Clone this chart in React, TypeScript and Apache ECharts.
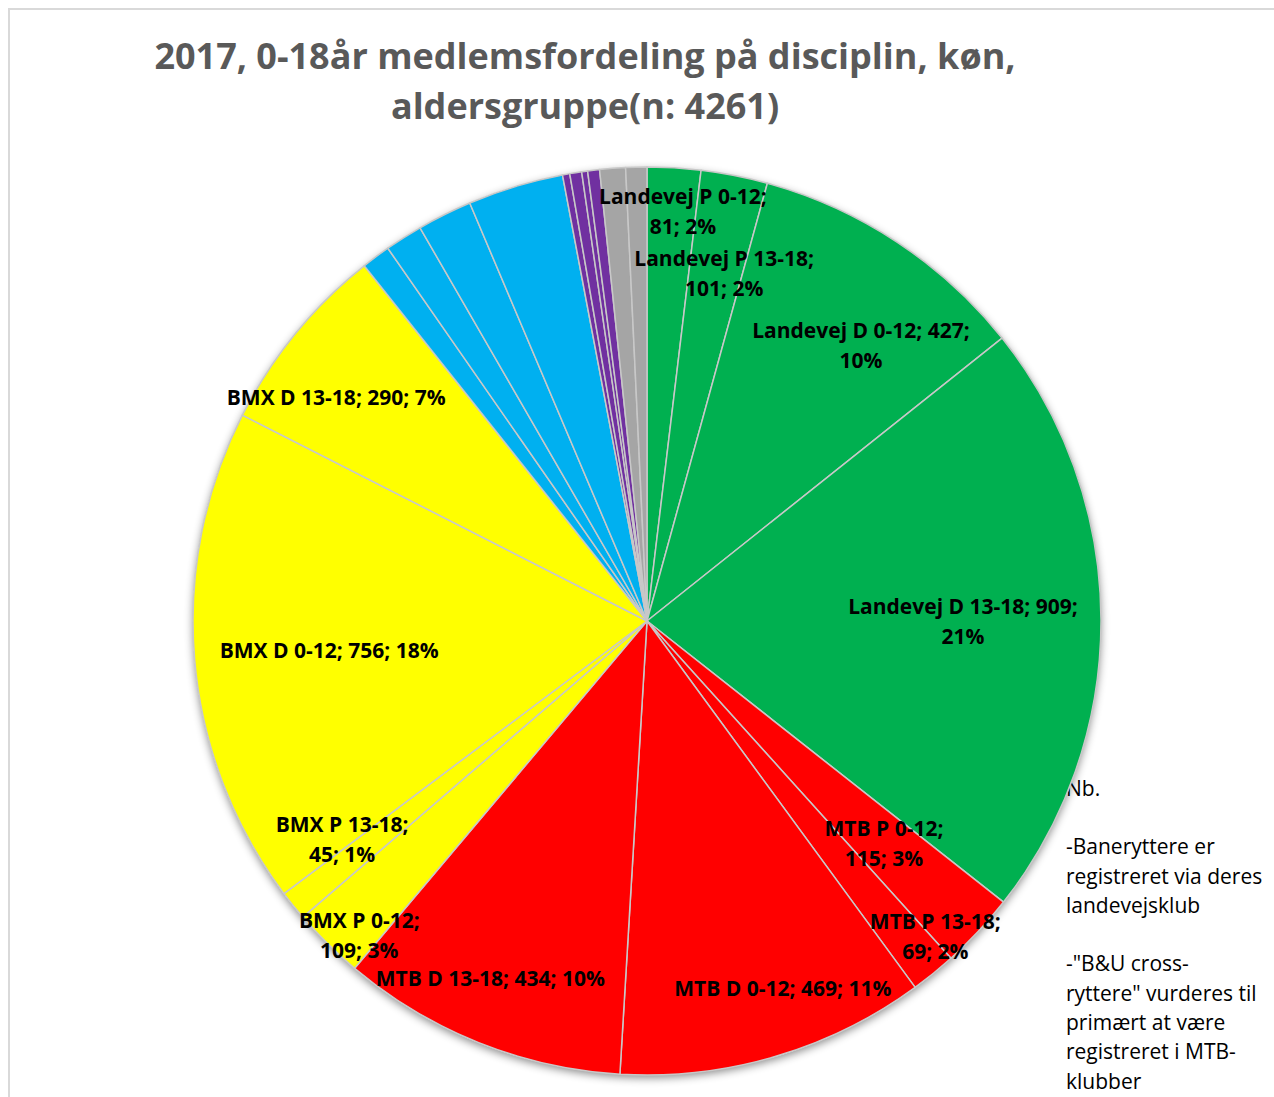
import React, { useEffect, useRef } from 'react';
import * as echarts from 'echarts';

const TITLE_LINES = ['2017, 0-18år medlemsfordeling på disciplin, køn,', 'aldersgruppe(n: 4261)'];

const categories = [
  'Landevej P 0-12', 'Landevej P 13-18', 'Landevej D 0-12', 'Landevej D 13-18',
  'MTB P 0-12', 'MTB P 13-18', 'MTB D 0-12', 'MTB D 13-18',
  'BMX P 0-12', 'BMX P 13-18', 'BMX D 0-12', 'BMX D 13-18',
  'Andet 1', 'Andet 2', 'Andet 3', 'Andet 4',
  'Andet 5', 'Andet 6', 'Andet 7', 'Andet 8',
  'Andet 9', 'Andet 10',
];
const values = [81, 101, 427, 909, 115, 69, 469, 434, 109, 45, 756, 290, 44, 57, 83, 145, 11, 18, 9, 18, 39, 32];

const GREEN = '#00B050', RED = '#FF0000', YELLOW = '#FFFF00', BLUE = '#00B0F0', PURPLE = '#7030A0', GRAY = '#A5A5A5';
const sliceColors = [
  GREEN, GREEN, GREEN, GREEN,
  RED, RED, RED, RED,
  YELLOW, YELLOW, YELLOW, YELLOW,
  BLUE, BLUE, BLUE, BLUE,
  PURPLE, PURPLE, PURPLE, PURPLE,
  GRAY, GRAY,
];
// 1 = break after name, 2 = break after value, 0 = single line, -1 = no label
const labelWrap = [1, 1, 2, 2, 1, 1, 0, 0, 1, 1, 0, 0, -1, -1, -1, -1, -1, -1, -1, -1, -1, -1];
// label placement: [angle clockwise from 12 o'clock in degrees, fraction of radius]
const labelPolar: (number[] | null)[] = [
  [5.0, 0.907], [12.5, 0.785], [37.8, 0.769], [90, 0.696],
  [133.1, 0.715], [137.5, 0.94], [159.7, 0.862], [203.7, 0.859],
  [222.5, 0.938], [234.4, 0.826], [264.8, 0.703], [305.8, 0.844],
  null, null, null, null, null, null, null, null, null, null,
];

const NOTE_LINES = [
  'Nb.', '', '-Baneryttere er', 'registreret via deres', 'landevejsklub', '',
  '-"B&U cross-', 'ryttere" vurderes til', 'primært at være', 'registreret i MTB-', 'klubber',
];

const TOTAL = values.reduce((a, b) => a + b, 0);
const CX = 639, CY = 613, R = 454;
const FONT = '"Open Sans", "Noto Sans", sans-serif';

export default function App() {
  const ref = useRef<HTMLDivElement>(null);
  useEffect(() => {
    if (!ref.current) return;
    const chart = echarts.init(ref.current, null, { renderer: 'svg' });
    const data = categories.map((name, i) => ({
      name,
      value: values[i],
      itemStyle: { color: sliceColors[i] },
      label: { show: labelWrap[i] >= 0 },
    }));
    chart.setOption({
      animation: false,
      backgroundColor: '#ffffff',
      title: {
        text: TITLE_LINES.join('\n'),
        left: 572,
        top: 17,
        textAlign: 'center',
        textStyle: { fontFamily: FONT, fontSize: 36, fontWeight: 'bold', color: '#595959', lineHeight: 50 },
      },
      graphic: [
        { type: 'line', shape: { x1: 0, y1: 1, x2: 1266, y2: 1 }, style: { stroke: '#D9D9D9', lineWidth: 2 } },
        { type: 'line', shape: { x1: 1, y1: 0, x2: 1, y2: 1089 }, style: { stroke: '#D9D9D9', lineWidth: 2 } },
        {
          type: 'text', left: 1058, top: 765,
          style: { text: NOTE_LINES.join('\n'), fontFamily: FONT, fontSize: 21, lineHeight: 29.3, fill: '#000000' },
        },
      ],
      series: [
        {
          type: 'pie',
          silent: true,
          center: [CX, CY],
          radius: R,
          z: 1,
          label: { show: false },
          labelLine: { show: false },
          data: [{ value: TOTAL, itemStyle: { color: '#ffffff', shadowBlur: 9, shadowColor: 'rgba(0,0,0,0.45)', shadowOffsetX: 0, shadowOffsetY: 3 } }],
        },
        {
          type: 'pie',
          center: [CX, CY],
          radius: R,
          z: 2,
          startAngle: 90,
          clockwise: true,
          avoidLabelOverlap: false,
          itemStyle: { borderColor: '#C8C8C8', borderWidth: 1.5 },
          label: {
            show: true,
            position: 'inside',
            color: '#000000',
            fontFamily: FONT,
            fontSize: 21,
            fontWeight: 'bold',
            lineHeight: 30,
            align: 'center',
            formatter: (p: any) => {
              const i = p.dataIndex;
              const pct = Math.round((p.value / TOTAL) * 100) + '%';
              const w = labelWrap[i];
              if (w === 1) return `${p.name};\n${p.value}; ${pct}`;
              if (w === 2) return `${p.name}; ${p.value};\n${pct}`;
              return `${p.name}; ${p.value}; ${pct}`;
            },
          },
          labelLine: { show: false },
          labelLayout: (params: any) => {
            const pol = labelPolar[params.dataIndex];
            if (!pol) return {};
            const a = (pol[0] * Math.PI) / 180;
            return {
              x: CX + R * pol[1] * Math.sin(a),
              y: CY - R * pol[1] * Math.cos(a),
              align: 'center',
              verticalAlign: 'middle',
            };
          },
          data,
        },
      ],
    });
    return () => chart.dispose();
  }, []);
  return (
    <div style={{ position: 'fixed', left: 8, top: 8, width: 1266, height: 1089 }}>
      <div ref={ref} style={{ width: 1266, height: 1089 }} />
    </div>
  );
}
